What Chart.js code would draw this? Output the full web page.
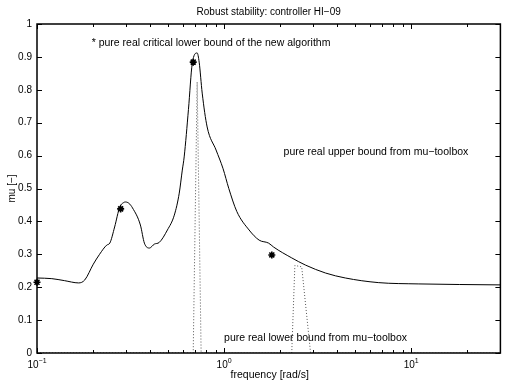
<!DOCTYPE html>
<html>
<head>
<meta charset="utf-8">
<script src="https://cdn.jsdelivr.net/npm/chart.js@4.4.1/dist/chart.umd.min.js"></script>
<style>
  html, body { margin: 0; padding: 0; background: #fff; }
  #wrap { width: 506px; height: 389px; }
</style>
</head>
<body>
<div id="wrap"><canvas id="mu"></canvas></div>
<script>
// pure real upper bound from mu-toolbox
const freqUpper = [0.1, 0.12, 0.14, 0.167, 0.18, 0.2, 0.216, 0.236, 0.245, 0.26, 0.277, 0.29, 0.297, 0.31, 0.324, 0.357, 0.375, 0.399, 0.424, 0.45, 0.498, 0.542, 0.576, 0.598, 0.612, 0.645, 0.676, 0.718, 0.736, 0.764, 0.812, 0.906, 0.988, 1.06, 1.17, 1.36, 1.54, 1.73, 1.84, 2.3, 2.73, 3.49, 4.45, 6.67, 10.9, 30];
const muUpper = [0.228, 0.226, 0.22, 0.213, 0.222, 0.27, 0.30, 0.328, 0.334, 0.383, 0.444, 0.457, 0.459, 0.455, 0.441, 0.389, 0.334, 0.319, 0.331, 0.336, 0.374, 0.419, 0.486, 0.556, 0.596, 0.74, 0.88, 0.912, 0.884, 0.79, 0.687, 0.617, 0.56, 0.50, 0.43, 0.374, 0.343, 0.334, 0.322, 0.289, 0.267, 0.243, 0.228, 0.214, 0.21, 0.207];

// pure real lower bound from mu-toolbox (zero apart from two narrow peaks)
const freqLower = [0.1, 0.684, 0.718, 0.754, 2.30, 2.39, 2.60, 2.90, 30];
const muLower = [0, 0, 0.824, 0, 0, 0.266, 0.262, 0, 0];

// critical lower bound of the new algorithm
const freqCrit = [0.1, 0.28, 0.684, 1.80];
const muCrit = [0.215, 0.438, 0.884, 0.298];

const xTicks = [0.1, 0.2, 0.3, 0.4, 0.5, 0.6, 0.7, 0.8, 0.9, 1, 2, 3, 4, 5, 6, 7, 8, 9, 10, 20, 30];
const xDecades = [0.1, 1, 10];
const xDecadeExp = ['−1', '0', '1'];
const yTicks = [0, 0.1, 0.2, 0.3, 0.4, 0.5, 0.6, 0.7, 0.8, 0.9, 1];

const notes = [
  { text: '* pure real critical lower bound of the new algorithm', f: 0.196, mu: 0.942 },
  { text: 'pure real upper bound from mu−toolbox', f: 2.08, mu: 0.611 },
  { text: 'pure real lower bound from mu−toolbox', f: 1.0, mu: 0.046 }
];

const FONT = "'Liberation Sans', Arial, Helvetica, sans-serif";

const toXY = (xs, ys) => xs.map((x, i) => ({ x: x, y: ys[i] }));

// box, inward ticks, decade labels and all free text
const matlabAxes = {
  id: 'matlabAxes',
  afterDraw(chart) {
    const ctx = chart.ctx;
    const a = chart.chartArea;
    const sx = chart.scales.x, sy = chart.scales.y;
    ctx.save();
    ctx.strokeStyle = '#000';
    ctx.lineWidth = 1;
    ctx.beginPath();
    yTicks.forEach(v => {
      const y = Math.round(sy.getPixelForValue(v)) + 0.5;
      ctx.moveTo(a.left, y); ctx.lineTo(a.left + 5, y);
      ctx.moveTo(a.right, y); ctx.lineTo(a.right - 5, y);
    });
    xTicks.forEach(v => {
      const x = Math.round(sx.getPixelForValue(v)) + 0.5;
      const len = xDecades.includes(v) ? 5 : 3;
      ctx.moveTo(x, a.bottom); ctx.lineTo(x, a.bottom - len);
      ctx.moveTo(x, a.top); ctx.lineTo(x, a.top + len);
    });
    ctx.stroke();

    ctx.lineWidth = 1.5;
    ctx.strokeRect(a.left, a.top, a.right - a.left, a.bottom - a.top);

    ctx.fillStyle = '#000';
    ctx.textBaseline = 'middle';

    // decade labels 10^n
    xDecades.forEach((v, i) => {
      const x = sx.getPixelForValue(v);
      ctx.font = '10px ' + FONT;
      const w = ctx.measureText('10').width;
      ctx.font = '7px ' + FONT;
      const we = ctx.measureText(xDecadeExp[i]).width;
      const x0 = x - (w + we) / 2;
      ctx.font = '10px ' + FONT;
      ctx.textAlign = 'left';
      ctx.fillText('10', x0, a.bottom + 12);
      ctx.font = '7px ' + FONT;
      ctx.fillText(xDecadeExp[i], x0 + w, a.bottom + 8);
    });

    ctx.font = '10.5px ' + FONT;
    notes.forEach(n => {
      ctx.textAlign = 'left';
      ctx.fillText(n.text, sx.getPixelForValue(n.f), sy.getPixelForValue(n.mu));
    });

    const cx = (a.left + a.right) / 2;
    ctx.textAlign = 'center';
    ctx.fillText('frequency [rad/s]', cx + 1, 375);
    ctx.font = '10px ' + FONT;
    ctx.fillText('Robust stability: controller HI−09', cx, 12);

    ctx.translate(12, (a.top + a.bottom) / 2);
    ctx.rotate(-Math.PI / 2);
    ctx.fillText('mu [−]', 0, 0);
    ctx.restore();
  }
};

new Chart(document.getElementById('mu'), {
  type: 'scatter',
  data: {
    datasets: [
      {
        label: 'upper',
        data: toXY(freqUpper, muUpper),
        showLine: true,
        borderColor: '#000',
        borderWidth: 1,
        pointRadius: 0,
        cubicInterpolationMode: 'monotone'
      },
      {
        label: 'lower',
        data: toXY(freqLower, muLower),
        showLine: true,
        borderColor: '#555',
        borderWidth: 1,
        borderDash: [1, 2],
        pointRadius: 0
      },
      {
        label: 'critical',
        data: toXY(freqCrit, muCrit),
        showLine: false,
        pointStyle: 'star',
        pointRadius: 3.5,
        borderColor: '#000',
        backgroundColor: '#000',
        pointBorderWidth: 1.6,
        clip: false
      }
    ]
  },
  options: {
    responsive: true,
    maintainAspectRatio: false,
    animation: false,
    layout: { padding: { top: 24, right: 2, left: 0, bottom: 0 } },
    plugins: {
      legend: { display: false },
      tooltip: { enabled: false }
    },
    scales: {
      x: {
        type: 'logarithmic',
        min: 0.1,
        max: 30,
        grid: { display: false, drawTicks: false },
        border: { display: false },
        ticks: { display: false },
        afterBuildTicks: s => { s.ticks = xTicks.map(v => ({ value: v })); },
        afterFit: s => { s.height = 36; }
      },
      y: {
        min: 0,
        max: 1,
        grid: { display: false, drawTicks: false },
        border: { display: false },
        ticks: {
          padding: 5,
          color: '#000',
          font: { family: FONT, size: 10 },
          callback: v => String(Number(v.toFixed(1)))
        },
        afterBuildTicks: s => { s.ticks = yTicks.map(v => ({ value: v })); },
        afterFit: s => { s.width = 37; }
      }
    }
  },
  plugins: [matlabAxes]
});
</script>
</body>
</html>
